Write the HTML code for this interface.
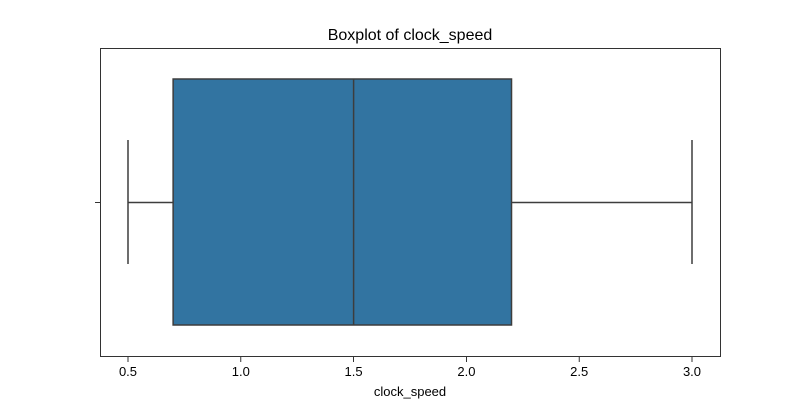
<!DOCTYPE html>
<html><head><meta charset="utf-8"><style>
body{margin:0;background:#fff;}
text{font-family:"Liberation Sans","DejaVu Sans",sans-serif;fill:#000;}
</style></head><body>
<svg width="800" height="400">
<rect x="0" y="0" width="800" height="400" fill="#fff"/>
<text x="410" y="40" font-size="16" text-anchor="middle">Boxplot of clock_speed</text>
<g id="marks"></g>
<rect x="100.5" y="48.5" width="620" height="308" fill="none" stroke="#000" stroke-width="0.8"/>
<line x1="95" y1="202.5" x2="100" y2="202.5" stroke="#000" stroke-width="0.8"/>
<g id="xticks"></g>
<text x="410" y="396" font-size="13" text-anchor="middle">clock_speed</text>
</svg>
<script>
const tickValues=[0.5,1.0,1.5,2.0,2.5,3.0];
const tickLabels=["0.5","1.0","1.5","2.0","2.5","3.0"];
const whiskerLow=[0.5];
const q1=[0.7];
const median=[1.5];
const q3=[2.2];
const whiskerHigh=[3.0];
const NS="http://www.w3.org/2000/svg";
function sx(v){return 128+(v-0.5)*225.6;}
function mk(tag,attrs,parent){const e=document.createElementNS(NS,tag);for(const k in attrs)e.setAttribute(k,attrs[k]);parent.appendChild(e);return e;}
const g=document.getElementById('marks');
const cy=202.5,boxTop=79,boxBot=325,capT=140,capB=264,col="#3d3d3d";
let e;
e=mk('line',{x1:sx(whiskerLow[0]),y1:cy,x2:sx(q1[0]),y2:cy,stroke:col,'stroke-width':1.5},g);


e=mk('line',{x1:sx(q3[0]),y1:cy,x2:sx(whiskerHigh[0]),y2:cy,stroke:col,'stroke-width':1.5},g);


e=mk('line',{x1:sx(whiskerLow[0]),y1:capT,x2:sx(whiskerLow[0]),y2:capB,stroke:col,'stroke-width':1.5},g);


e=mk('line',{x1:sx(whiskerHigh[0]),y1:capT,x2:sx(whiskerHigh[0]),y2:capB,stroke:col,'stroke-width':1.5},g);


e=mk('rect',{x:sx(q1[0]),y:boxTop,width:sx(q3[0])-sx(q1[0]),height:boxBot-boxTop,fill:'#3274a1',stroke:col,'stroke-width':1.5},g);


e=mk('line',{x1:sx(median[0]),y1:boxTop,x2:sx(median[0]),y2:boxBot,stroke:col,'stroke-width':1.5},g);


const xt=document.getElementById('xticks');
tickValues.forEach((v,i)=>{
 const l=mk('line',{x1:sx(v),y1:357,x2:sx(v),y2:362,stroke:'#000','stroke-width':0.8},xt);
 
 
 const t=mk('text',{x:sx(v),y:376,'font-size':13,'text-anchor':'middle'},xt);
 t.textContent=tickLabels[i];
 
 
});
</script>
</body></html>
